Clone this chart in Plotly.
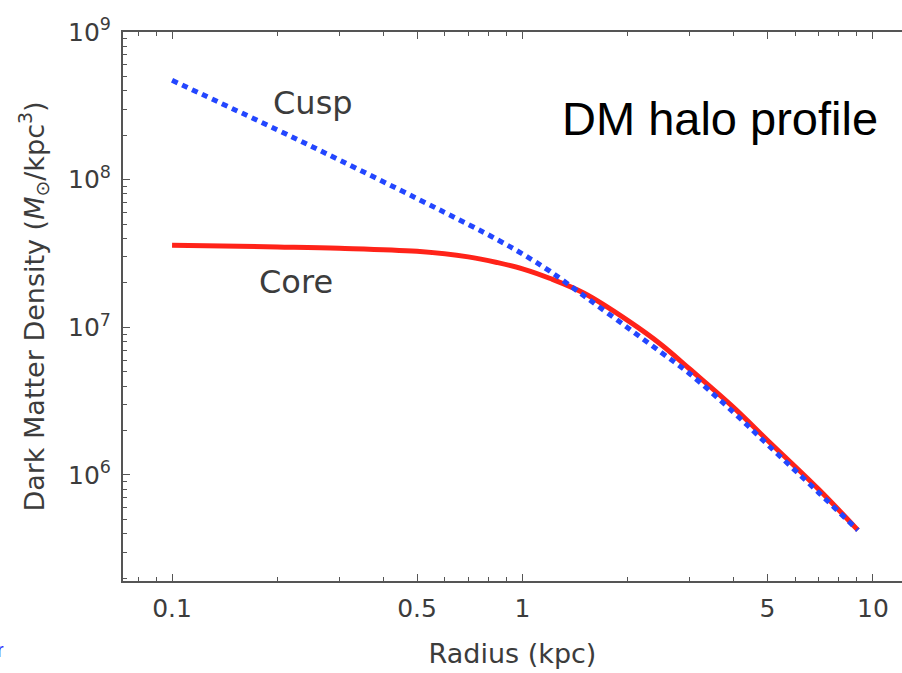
import plotly.graph_objects as go

# values
radius_kpc = [0.1, 0.2, 0.3, 0.5, 0.7, 0.85, 1.0, 1.2, 1.5, 2.0, 2.5, 3.0, 4.0, 5.0, 7.0, 9.06]
cusp_density = [4.71e8, 2.17e8, 1.36e8, 7.45e7, 4.98e7, 3.91e7, 3.14e7, 2.39e7, 1.63e7,
                9.9e6, 6.7e6, 4.85e6, 2.66e6, 1.61e6, 7.6e5, 4.23e5]
core_density = [3.6e7, 3.5e7, 3.43e7, 3.27e7, 3.0e7, 2.74e7, 2.49e7, 2.14e7, 1.70e7,
                1.11e7, 7.57e6, 5.22e6, 2.87e6, 1.72e6, 8.0e5, 4.23e5]

x_tick_vals = [0.1, 0.5, 1, 5, 10]
x_tick_text = ["0.1", "0.5", "1", "5", "10"]
x_minor_vals = [0.08, 0.09, 0.2, 0.3, 0.4, 0.6, 0.7, 0.8, 0.9, 2, 3, 4, 6, 7, 8, 9]
y_tick_vals = [1e6, 1e7, 1e8, 1e9]
y_tick_text = ["10<sup>6</sup>", "10<sup>7</sup>", "10<sup>8</sup>", "10<sup>9</sup>"]
y_minor_vals = [m * 10 ** e for e in range(5, 9) for m in range(2, 10)]

text_grey = "#3c3c3c"
axis_grey = "#555555"
y_range = [5.282, 9]

core = go.Scatter(
    x=radius_kpc,
    y=core_density,
    mode="lines",
    name="Core",
    line=dict(color="rgb(255,35,25)", width=5, shape="spline"),
)
cusp = go.Scatter(
    x=radius_kpc,
    y=cusp_density,
    mode="lines",
    name="Cusp",
    line=dict(color="rgb(35,70,255)", width=5, dash="6px,5px", shape="spline"),
)

fig = go.Figure(data=[core, cusp])

axis_common = dict(
    type="log",
    showgrid=False,
    zeroline=False,
    ticks="inside",
    ticklen=7,
    tickwidth=1,
    tickcolor=axis_grey,
    tickfont=dict(family="DejaVu Sans", size=25, color=text_grey),
    automargin=False,
)
minor_common = dict(ticks="inside", ticklen=4, tickcolor=axis_grey, tickwidth=1)

fig.update_layout(
    width=902,
    height=673,
    margin=dict(l=123, r=0, t=32, b=92),
    paper_bgcolor="white",
    plot_bgcolor="white",
    showlegend=False,
    xaxis=dict(
        axis_common,
        range=[-1.14, 1.083],
        showline=True,
        linecolor=axis_grey,
        linewidth=2,
        mirror="ticks",
        tickmode="array",
        tickvals=x_tick_vals,
        ticktext=x_tick_text,
        ticklabelstandoff=4,
        minor=dict(minor_common, tickvals=x_minor_vals),
        title=dict(text="Radius (kpc)", standoff=22,
                   font=dict(family="DejaVu Sans", size=27, color=text_grey)),
    ),
    yaxis=dict(
        axis_common,
        range=y_range,
        showline=True,
        linecolor=axis_grey,
        linewidth=2,
        tickmode="array",
        tickvals=y_tick_vals,
        ticktext=y_tick_text,
        ticklabelstandoff=5,
        minor=dict(minor_common, tickvals=y_minor_vals),
        title=dict(text="Dark Matter Density (<i>M</i><sub>⊙</sub>/kpc<sup>3</sup>)",
                   standoff=16,
                   font=dict(family="DejaVu Sans", size=27, color=text_grey)),
    ),
    # right frame edge sits just outside the picture: only its ticks show
    yaxis2=dict(
        axis_common,
        range=y_range,
        overlaying="y",
        side="right",
        showline=False,
        showticklabels=False,
        tickmode="array",
        tickvals=y_tick_vals,
        minor=dict(minor_common, tickvals=y_minor_vals),
    ),
)

# curve labels
fig.add_annotation(x=-0.599, y=8.519, xref="x", yref="y", text="Cusp", showarrow=False,
                   font=dict(family="DejaVu Sans", size=32, color=text_grey))
fig.add_annotation(x=-0.647, y=7.307, xref="x", yref="y", text="Core", showarrow=False,
                   font=dict(family="DejaVu Sans", size=32, color=text_grey))

# pasted-on caption
fig.add_annotation(x=0.5613, y=0.842, xref="paper", yref="paper", text="DM halo profile",
                   showarrow=False, xanchor="left", yanchor="middle",
                   font=dict(family="Liberation Sans", size=47, color="black"))

# clipped blue glyph at bottom-left edge
fig.add_annotation(x=-0.150, y=-0.126, xref="paper", yref="paper", text="r",
                   showarrow=False, xanchor="right", yanchor="middle",
                   font=dict(family="Liberation Sans", size=20, color="#2a2aff"))

# page body has an 8px default margin; drop it so the figure fills the window
fig.write_html("out.html", config={"displayModeBar": False},
               post_script="document.body.style.margin='0px';")
